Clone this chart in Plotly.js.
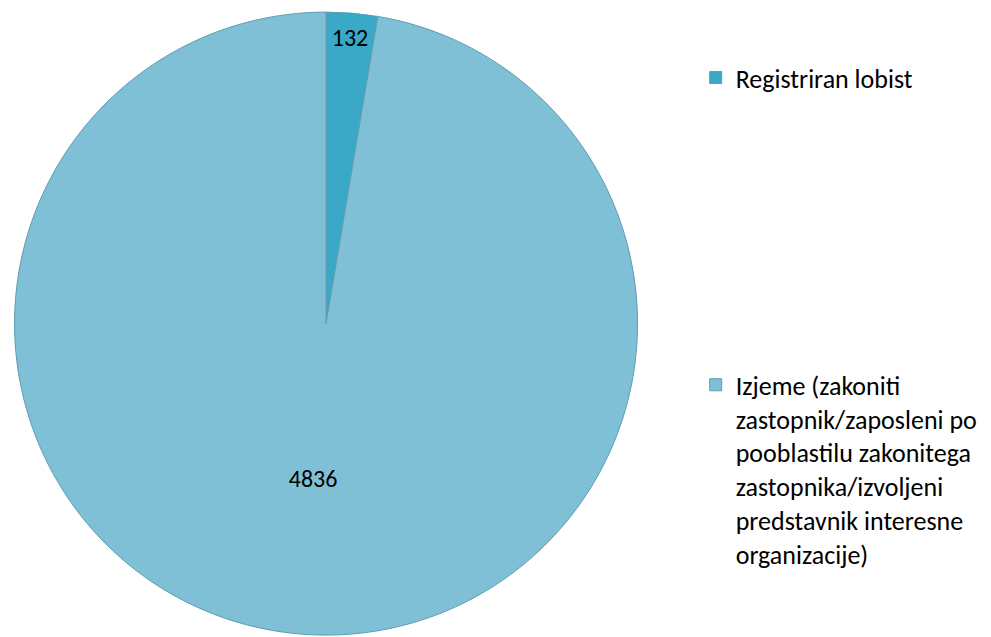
<!DOCTYPE html>
<html>
<head>
<meta charset="utf-8">
<script src="https://cdn.plot.ly/plotly-3.0.1.min.js"></script>
<style>html,body{margin:0;padding:0;background:#fff;}#chart{width:991px;height:637px;}</style>
</head>
<body>
<div id="chart"></div>
<script>
var categories = [
  'Registriran lobist',
  'Izjeme (zakoniti<br>zastopnik/zaposleni po<br>pooblastilu zakonitega<br>zastopnika/izvoljeni<br>predstavnik interesne<br>organizacije)'
];
var values = [132, 4836];
var sliceColors = ['#3aa8c7', '#80c0d6'];

var FONT = 'Calibri, Carlito, Lato, "Open Sans", sans-serif';
var spacer = '';
for (var i = 0; i < 8; i++) spacer += '<br> ';
var legendLabels = [categories[0] + spacer, categories[1]];

var data = [{
  type: 'pie',
  labels: legendLabels,
  values: values,
  sort: false,
  direction: 'clockwise',
  rotation: 0,
  textinfo: 'value',
  textposition: 'inside',
  insidetextorientation: 'horizontal',
  textfont: {family: FONT, size: 24, color: '#000'},
  marker: {colors: sliceColors, line: {color: '#5c9db2', width: 1}},
  domain: {x: [0.012, 0.646], y: [0.003, 0.981]},
  hoverinfo: 'label+value'
}];

var layout = {
  width: 991, height: 637,
  margin: {l: 0, r: 0, t: 0, b: 0},
  paper_bgcolor: '#fff',
  showlegend: true,
  uniformtext: {mode: 'show', minsize: 24},
  legend: {
    x: 0.702, y: 0.915, xanchor: 'left', yanchor: 'top',
    valign: 'top',
    font: {family: FONT, size: 26, color: '#000'},
    bgcolor: 'rgba(0,0,0,0)'
  }
};

Plotly.newPlot('chart', data, layout, {displayModeBar: false});
</script>
</body>
</html>
